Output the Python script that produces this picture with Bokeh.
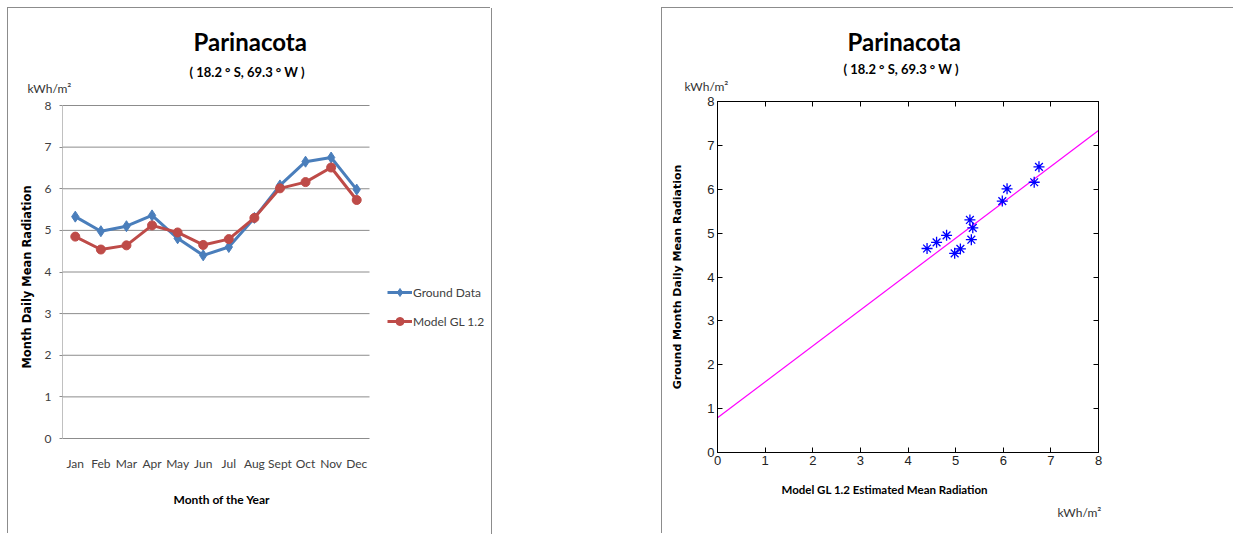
from bokeh.plotting import figure
from bokeh.models import (Range1d, Legend, LegendItem, LinearAxis, Title,
                          FixedTicker, Spacer, ColumnDataSource)
from bokeh.layouts import row, column
from bokeh.embed import file_html
from bokeh.resources import INLINE

# ---------------- data ----------------
months = ["Jan", "Feb", "Mar", "Apr", "May", "Jun", "Jul", "Aug", "Sept", "Oct", "Nov", "Dec"]
ground = [5.33, 4.98, 5.10, 5.36, 4.81, 4.40, 4.60, 5.30, 6.08, 6.65, 6.75, 5.98]
model = [4.85, 4.54, 4.64, 5.12, 4.95, 4.65, 4.79, 5.30, 6.01, 6.16, 6.51, 5.73]
fit_x = [0, 8]
fit_y = [0.79, 7.34]
y_ticks = [0, 1, 2, 3, 4, 5, 6, 7, 8]
x_ticks = [0, 1, 2, 3, 4, 5, 6, 7, 8]

title_txt = "Parinacota"
subtitle_txt = "( 18.2 ° S, 69.3 ° W )"
unit = "kWh/m²"

BLUE = "#4a7ebb"
RED = "#be4b48"

# month slots: category i occupies [i, i+1] on the x scale
n = len(months)
x_pos = [i + 0.5 for i in range(n)]

# frames of both charts share the same vertical extent (px): 101..452
# left chart's value axis 0..8 spans 438..105 inside it
px_per_unit = (438 - 105) / 8.0
y_lo = -(452 - 438) / px_per_unit
y_hi = 8 + (105 - 101) / px_per_unit


def set_standoff(t, s):
    try:
        t.standoff = s
    except Exception:
        t.standoff = max(s, 0)


def style_title(t, text, size, offset, valign, standoff, style="bold", color="#000000"):
    t.text = text
    t.align = "left"
    t.offset = offset
    t.vertical_align = valign
    set_standoff(t, standoff)
    t.text_font = "Lato"
    t.text_font_size = size
    t.text_font_style = style
    t.text_color = color
    return t


def new_title(*args, **kw):
    return style_title(Title(text=""), *args, **kw)


# ---------------- left chart ----------------
src = ColumnDataSource(dict(x=x_pos, ground=ground, model=model))

p1 = figure(width=483, height=526, x_range=Range1d(0, n * 423 / 307),
            y_range=Range1d(y_lo, y_hi), output_backend="svg", toolbar_location=None,
            min_border_left=54, min_border_right=6, min_border_top=93,
            min_border_bottom=82)
p1.outline_line_color = None
p1.grid.grid_line_color = None

# horizontal gridlines across the month slots only
p1.segment(x0=[0] * len(y_ticks), x1=[n] * len(y_ticks), y0=y_ticks, y1=y_ticks,
           line_color="#8c8c8c", line_width=1)

p1.yaxis.ticker = FixedTicker(ticks=y_ticks)
p1.yaxis.bounds = (0, 8)
p1.yaxis.axis_line_color = "#c0c0c0"
p1.yaxis.major_tick_out = 3
p1.yaxis.major_tick_in = 0
p1.yaxis.major_tick_line_color = "#8c8c8c"
p1.yaxis.minor_tick_line_color = None
p1.yaxis.major_label_standoff = 8
p1.yaxis.major_label_text_font = "Lato"
p1.yaxis.major_label_text_font_size = "12px"
p1.yaxis.major_label_text_color = "#404040"
p1.yaxis.axis_label = "Month Daily Mean Radiation"
p1.yaxis.axis_label_text_font = "DejaVu Sans"
p1.yaxis.axis_label_text_font_size = "11.5px"
p1.yaxis.axis_label_text_font_style = "bold"
p1.yaxis.axis_label_text_color = "#000000"
p1.yaxis.axis_label_standoff = 8

p1.xaxis.ticker = FixedTicker(ticks=x_pos)
p1.xaxis.major_label_overrides = {x: m for x, m in zip(x_pos, months)}
p1.xaxis.axis_line_color = None
p1.xaxis.major_tick_line_color = None
p1.xaxis.minor_tick_line_color = None
p1.xaxis.major_tick_out = 0
p1.xaxis.major_tick_in = 0
p1.xaxis.major_label_standoff = 3
p1.xaxis.major_label_text_font = "Lato"
p1.xaxis.major_label_text_font_size = "12px"
p1.xaxis.major_label_text_color = "#404040"

l1 = p1.line("x", "ground", source=src, color=BLUE, line_width=3)
s1 = p1.scatter("x", "ground", source=src, marker="diamond", size=11, color=BLUE)
l2 = p1.line("x", "model", source=src, color=RED, line_width=3)
s2 = p1.scatter("x", "model", source=src, marker="circle", size=9, color=RED)

legend = Legend(items=[LegendItem(label="Ground Data", renderers=[l1, s1]),
                       LegendItem(label="Model GL 1.2", renderers=[l2, s2])],
                location=(325, 121), border_line_color=None, background_fill_alpha=0,
                padding=0, margin=0, spacing=9, glyph_width=25, glyph_height=20,
                label_standoff=1, label_text_font="Lato", label_text_font_size="12px",
                label_text_color="#404040")
p1.add_layout(legend)

# above panel: first added is nearest to the frame; plot title is outermost
p1.add_layout(new_title(unit, "12px", -35, "bottom", 12, style="normal",
                        color="#333333"), "above")
p1.add_layout(new_title(subtitle_txt, "13px", 127, "bottom", -14), "above")
style_title(p1.title, title_txt, "24px", 131, "bottom", 25)
p1.add_layout(new_title("Month of the Year", "12px", 111, "top", 36), "below")

p1.styles = {"box-shadow": "-1px -1px 0 0 #8c8c8c, 1px 0 0 0 #8c8c8c"}

# ---------------- right chart ----------------
p2 = figure(width=572, height=526, x_range=Range1d(0, 8), y_range=Range1d(0, 8),
            output_backend="svg", toolbar_location=None,
            min_border_left=55, min_border_right=136, min_border_top=93,
            min_border_bottom=82)
p2.grid.grid_line_color = None
p2.outline_line_color = "black"
p2.add_layout(LinearAxis(), "right")
p2.add_layout(LinearAxis(), "above")
for ax in p2.axis:
    ax.ticker = FixedTicker(ticks=x_ticks)
    ax.major_tick_in = 5
    ax.major_tick_out = 0
    ax.major_tick_line_color = "black"
    ax.minor_tick_line_color = None
    ax.axis_line_color = "black"
    ax.major_label_text_font = "Liberation Sans"
    ax.major_label_text_font_size = "13px"
    ax.major_label_text_color = "#222222"
    ax.major_label_standoff = 3
for ax in (p2.right[0], p2.above[0]):
    ax.major_label_text_font_size = "0px"
    ax.major_label_standoff = 0
p2.yaxis[0].axis_label = "Ground Month Daily Mean Radiation"
p2.yaxis[0].axis_label_text_font = "DejaVu Sans"
p2.yaxis[0].axis_label_text_font_size = "11px"
p2.yaxis[0].axis_label_text_font_style = "bold"
p2.yaxis[0].axis_label_text_color = "#000000"
p2.yaxis[0].axis_label_standoff = 20

p2.line(fit_x, fit_y, color="#ff00ff", line_width=1.2)
p2.scatter(ground, model, marker="asterisk", size=11, line_color="#0000ff", line_width=1.3)

p2.add_layout(new_title(unit, "12px", -33, "bottom", 16, style="normal",
                        color="#333333"), "above")
p2.add_layout(new_title(subtitle_txt, "13px", 126, "bottom", -17), "above")
style_title(p2.title, title_txt, "24px", 130, "bottom", 24)
p2.add_layout(new_title("Model GL 1.2 Estimated Mean Radiation", "11.5px", 64, "top", 30),
              "below")
p2.add_layout(new_title(unit, "12px", 340, "top", -16, style="normal", color="#333333"),
              "below")

p2.styles = {"box-shadow": "-1px -1px 0 0 #8c8c8c"}

layout = column(Spacer(width=1234, height=8),
                row(Spacer(width=8, height=526), p1, Spacer(width=171, height=526), p2))

with open("out.html", "w") as f:
    f.write(file_html(layout, INLINE))
